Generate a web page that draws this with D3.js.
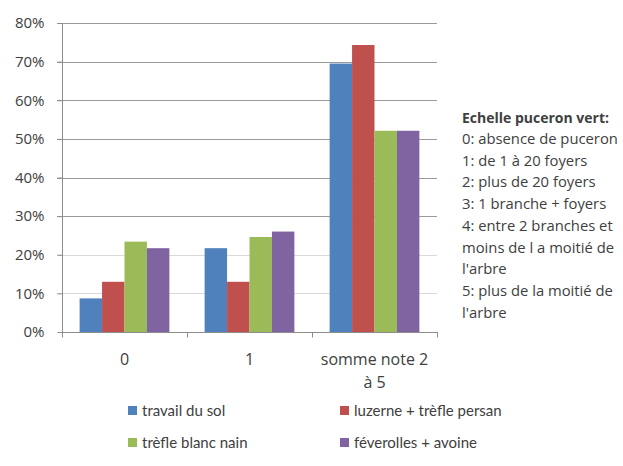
<!DOCTYPE html>
<html>
<head>
<meta charset="utf-8">
<script src="https://cdn.jsdelivr.net/npm/d3@7/dist/d3.min.js"></script>
<style>
  html, body { margin: 0; padding: 0; background: #fff; }
  svg { display: block; }
  text { font-family: Lato, "Open Sans", sans-serif; fill: #404040; }
  .os { font-family: "Open Sans", Lato, sans-serif; }
</style>
</head>
<body>
<svg id="chart" width="623" height="466"></svg>
<script>
// Aphid scale categories and share of trees per ground-cover treatment
const categories = ["0", "1", "somme note 2\nà 5"];
const seriesNames = ["travail du sol", "luzerne + trèfle persan", "trèfle blanc nain", "féverolles + avoine"];
const seriesColors = ["#4F81BD", "#C0504D", "#9BBB59", "#8064A2"];
const travailDuSol = [0.087, 0.217, 0.695];
const luzerneTrefle = [0.13, 0.13, 0.743];
const trefleBlanc = [0.234, 0.246, 0.521];
const feverollesAvoine = [0.217, 0.26, 0.521];
const seriesValues = [travailDuSol, luzerneTrefle, trefleBlanc, feverollesAvoine];
const yTicks = [0, 0.1, 0.2, 0.3, 0.4, 0.5, 0.6, 0.7, 0.8];
const noteLines = [
  "0: absence de puceron",
  "1: de 1 à 20 foyers",
  "2: plus de 20 foyers",
  "3: 1 branche + foyers",
  "4: entre 2 branches et",
  "moins de l a moitié de",
  "l'arbre",
  "5: plus de la moitié  de",
  "l'arbre"
];

const svg = d3.select("#chart");
const plot = { left: 62, right: 437, top: 23, bottom: 332 };

const x0 = d3.scaleBand().domain(categories).range([plot.left, plot.right]).padding(0);
const groupGap = x0.bandwidth() * 0.141;
const x1 = d3.scaleBand().domain(d3.range(seriesNames.length))
  .range([groupGap, x0.bandwidth() - groupGap]).padding(0);
const y = d3.scaleLinear().domain([0, 0.8]).range([plot.bottom, plot.top]);

// horizontal gridlines
svg.append("g").selectAll("line").data(yTicks.slice(1)).join("line")
  .attr("x1", plot.left - 5).attr("x2", plot.right)
  .attr("y1", d => Math.round(y(d)) + 0.5).attr("y2", d => Math.round(y(d)) + 0.5)
  .attr("stroke", d => d < 0.25 ? "#d9d9d9" : "#9a9a9a").attr("stroke-width", 1);

// bars
const groups = svg.append("g").selectAll("g").data(categories).join("g")
  .attr("transform", c => `translate(${x0(c)},0)`);
groups.selectAll("rect")
  .data((c, ci) => seriesValues.map((vals, si) => ({ si, v: vals[ci] })))
  .join("rect")
  .attr("x", d => x1(d.si))
  .attr("width", x1.bandwidth())
  .attr("y", d => y(d.v))
  .attr("height", d => y(0) - y(d.v))
  .attr("fill", d => seriesColors[d.si]);

// y axis
const yAxis = svg.append("g").attr("transform", `translate(${plot.left + 0.5},0)`)
  .call(d3.axisLeft(y).tickValues(yTicks).tickFormat(d3.format(".0%")).tickSize(5).tickPadding(13));
yAxis.attr("font-family", null);
yAxis.select(".domain").attr("stroke", "#8c8c8c").attr("d", `M0,${plot.top}V${plot.bottom}`);
yAxis.selectAll(".tick line").attr("stroke", "#8c8c8c");
yAxis.selectAll("text").attr("class", "os").style("font-size", "15px").attr("fill", "#404040");

// x axis
const xAxis = svg.append("g").attr("transform", `translate(0,${plot.bottom + 0.5})`);
xAxis.append("line").attr("x1", plot.left).attr("x2", plot.right + 1)
  .attr("stroke", "#8c8c8c");
xAxis.selectAll("line.tk").data(categories.concat([null])).join("line").attr("class", "tk")
  .attr("x1", (c, i) => i < categories.length ? Math.round(x0(c)) + 0.5 : plot.right + 0.5)
  .attr("x2", (c, i) => i < categories.length ? Math.round(x0(c)) + 0.5 : plot.right + 0.5)
  .attr("y1", 0).attr("y2", 5).attr("stroke", "#8c8c8c");
xAxis.selectAll("text").data(categories).join("text")
  .attr("class", "os")
  .attr("x", c => x0(c) + x0.bandwidth() / 2)
  .attr("text-anchor", "middle")
  .style("font-size", "16px")
  .each(function (c) {
    const lines = c.split("\n");
    d3.select(this).selectAll("tspan").data(lines).join("tspan")
      .attr("x", x0(c) + x0.bandwidth() / 2)
      .attr("y", (l, i) => 32 + i * 23)
      .text(l => l);
  });

// scale explanation
const note = svg.append("g").attr("transform", "translate(462,0)");
note.append("text").attr("class", "os").attr("y", 123).style("font-size", "14px").style("font-weight", "bold")
  .attr("fill", "#1a1a1a").text("Echelle puceron vert:");
note.selectAll("text.ln").data(noteLines).join("text").attr("class", "ln os")
  .attr("y", (d, i) => 144 + i * 21.7)
  .style("font-size", "14.8px")
  .text(d => d);

// legend
const legendPos = [[128, 406], [340, 406], [128, 438], [340, 438]];
const legend = svg.append("g").selectAll("g").data(seriesNames).join("g")
  .attr("transform", (d, i) => `translate(${legendPos[i][0]},${legendPos[i][1]})`);
legend.append("rect").attr("width", 9).attr("height", 9)
  .attr("fill", (d, i) => seriesColors[i]);
legend.append("text").attr("x", 14).attr("y", 9.5)
  .style("font-size", "15px").attr("fill", "#262626").text(d => d);
</script>
</body>
</html>
